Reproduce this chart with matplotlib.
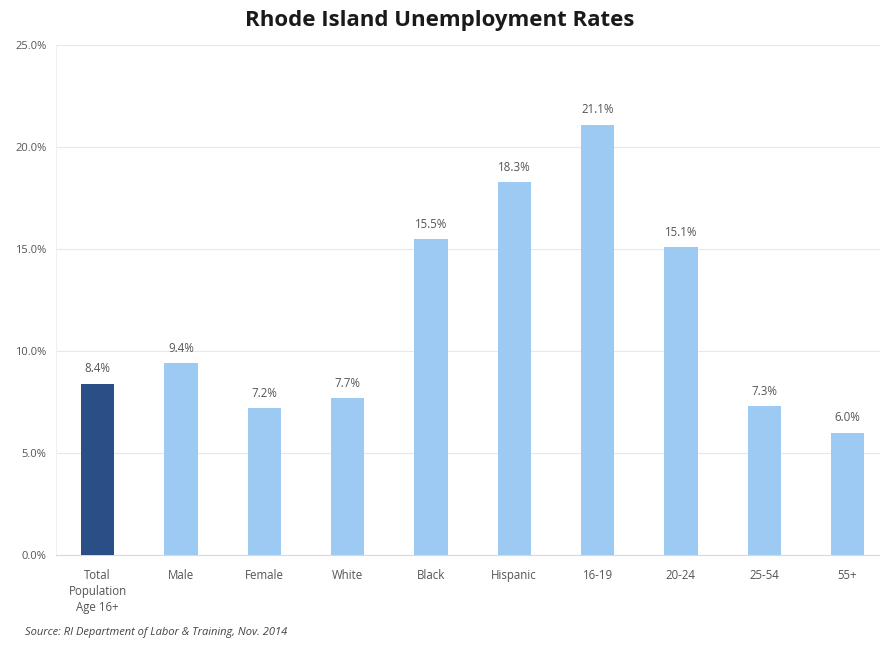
import matplotlib.pyplot as plt
from matplotlib.ticker import FuncFormatter

# --- data ---
categories = ['Total\nPopulation\nAge 16+', 'Male', 'Female', 'White', 'Black',
              'Hispanic', '16-19', '20-24', '25-54', '55+']
rates = [8.4, 9.4, 7.2, 7.7, 15.5, 18.3, 21.1, 15.1, 7.3, 6.0]
y_ticks = [0, 5, 10, 15, 20, 25]

DARK_BLUE = '#2a4f86'
LIGHT_BLUE = '#9ccaf2'
TEXT_GRAY = '#555555'

plt.rcParams['font.family'] = ['Open Sans', 'DejaVu Sans']

fig = plt.figure(figsize=(8.8, 6.45), dpi=100, facecolor='white')
ax = fig.add_axes([56 / 880, 90 / 645, 824 / 880, 510 / 645])

colors = [DARK_BLUE] + [LIGHT_BLUE] * (len(rates) - 1)
x = range(len(categories))
bars = ax.bar(x, rates, width=0.4, color=colors, zorder=3)

for b, v in zip(bars, rates):
    ax.text(b.get_x() + b.get_width() / 2, v + 0.4, f'{v:.1f}%',
            ha='center', va='bottom', fontsize=8.3, color=TEXT_GRAY)

ax.set_xlim(-0.5, 9.39)
ax.set_ylim(0, 25)
ax.set_yticks(y_ticks)
ax.yaxis.set_major_formatter(FuncFormatter(lambda v, p: f'{v:.1f}%'))
ax.set_xticks(list(x))
ax.set_xticklabels(categories, fontsize=8.3, color=TEXT_GRAY, linespacing=1.3)
ax.tick_params(axis='y', labelsize=8, labelcolor=TEXT_GRAY, length=0, pad=7)
ax.tick_params(axis='x', length=0, pad=10)

ax.grid(axis='y', color='#e8e8e8', linewidth=0.8, zorder=0)
for side in ['top', 'right']:
    ax.spines[side].set_visible(False)
ax.spines['left'].set_color('#f0f0f0')
ax.spines['bottom'].set_color('#d9d9d9')
ax.spines['bottom'].set_linewidth(0.8)

fig.text(0.5, 0.968, 'Rhode Island Unemployment Rates', ha='center', va='center',
         fontsize=16, fontweight='bold', color='#1a1a1a')
fig.text(25 / 880, 1 - 633 / 645, 'Source: RI Department of Labor & Training, Nov. 2014',
         ha='left', va='center', fontsize=8, style='italic', color='#444444')

fig.savefig('out.png', dpi=100, facecolor='white')
